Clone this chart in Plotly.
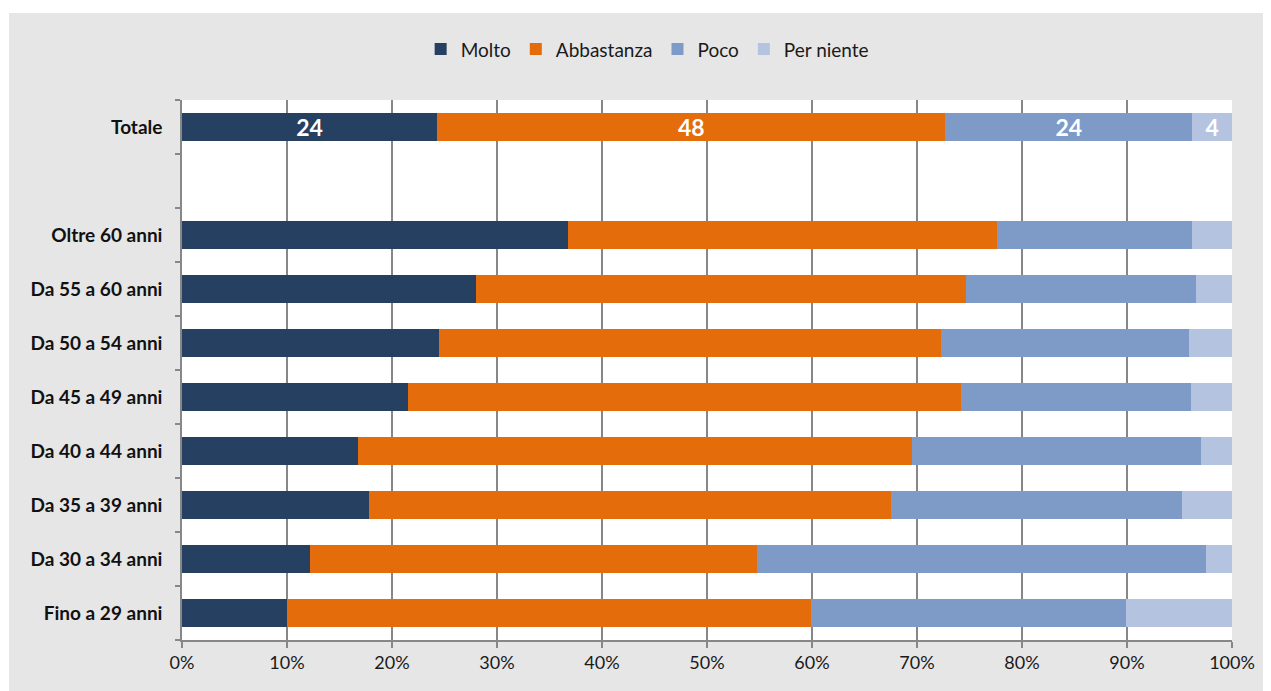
import plotly.graph_objects as go

categories = ["Totale", " ", "Oltre 60 anni", "Da 55 a 60 anni", "Da 50 a 54 anni",
              "Da 45 a 49 anni", "Da 40 a 44 anni", "Da 35 a 39 anni",
              "Da 30 a 34 anni", "Fino a 29 anni"]

# values per row (None for the empty spacer row)
molto = [24.3, None, 36.8, 28.0, 24.5, 21.5, 16.8, 17.8, 12.2, 10.0]
abbastanza = [48.4, None, 40.8, 46.7, 47.8, 52.7, 52.7, 49.7, 42.6, 49.9]
poco = [23.5, None, 18.6, 21.9, 23.6, 21.9, 27.5, 27.7, 42.7, 30.0]
per_niente = [3.8, None, 3.8, 3.4, 4.1, 3.9, 3.0, 4.8, 2.5, 10.1]

# only the "Totale" row carries value labels
labels_molto = ["24"] + [""] * 9
labels_abbastanza = ["48"] + [""] * 9
labels_poco = ["24"] + [""] * 9
labels_per_niente = ["4"] + [""] * 9

series = [
    ("Molto", molto, labels_molto, "#264061"),
    ("Abbastanza", abbastanza, labels_abbastanza, "#e46c0a"),
    ("Poco", poco, labels_poco, "#7e9bc8"),
    ("Per niente", per_niente, labels_per_niente, "#b4c3df"),
]

FONT = "Lato"

fig = go.Figure()
for name, vals, txt, col in series:
    fig.add_trace(go.Bar(
        y=categories, x=vals, name=name, orientation="h",
        marker=dict(color=col, line=dict(width=0)),
        text=txt, textposition="inside", insidetextanchor="middle",
        constraintext="none",
        textfont=dict(family=FONT, size=23, color="white", weight="bold"),
        textangle=0, hoverinfo="x+name",
    ))

# page body has an 8px margin, so the figure is drawn 8px smaller and shifted
fig.update_layout(
    barmode="stack",
    bargap=0.48,
    width=1263, height=683,
    margin=dict(l=174, r=39, t=92, b=51),
    paper_bgcolor="#e6e6e6",
    plot_bgcolor="white",
    font=dict(family=FONT, size=18, color="#1a1a1a"),
    legend=dict(orientation="h", x=0.443, xanchor="center", y=1.094, yanchor="middle",
                font=dict(family=FONT, size=19, color="#1a1a1a"),
                bgcolor="rgba(0,0,0,0)", traceorder="normal", itemwidth=30),
    shapes=[
        # white strips above and left of the grey chart frame
        dict(type="rect", xref="paper", yref="paper", x0=-0.2, x1=1.1,
             y0=(540 + 87) / 540, y1=1.3, fillcolor="white", line=dict(width=0), layer="below"),
        dict(type="rect", xref="paper", yref="paper", x0=-0.2, x1=(1 - 174) / 1050,
             y0=-0.2, y1=1.3, fillcolor="white", line=dict(width=0), layer="below"),
    ],
)

fig.update_xaxes(
    range=[0, 100], tickvals=list(range(0, 101, 10)),
    ticktext=[f"{v}%" for v in range(0, 101, 10)],
    showgrid=True, gridcolor="#878787", gridwidth=1.5,
    showline=True, linecolor="#878787", linewidth=1.5,
    ticks="outside", ticklen=6, tickcolor="#878787", tickwidth=1.5,
    tickfont=dict(family=FONT, size=18, color="#1a1a1a"),
    zeroline=False, fixedrange=True,
)
fig.update_yaxes(
    categoryorder="array", categoryarray=categories[::-1],
    tickson="boundaries", ticks="outside", ticklen=5, tickcolor="#878787", tickwidth=1.5,
    showline=True, linecolor="#878787", linewidth=1.5,
    showgrid=False, ticklabelstandoff=14,
    tickfont=dict(family=FONT, size=19, color="#111111", weight="bold"),
    fixedrange=True,
)

fig.write_html("out.html")
